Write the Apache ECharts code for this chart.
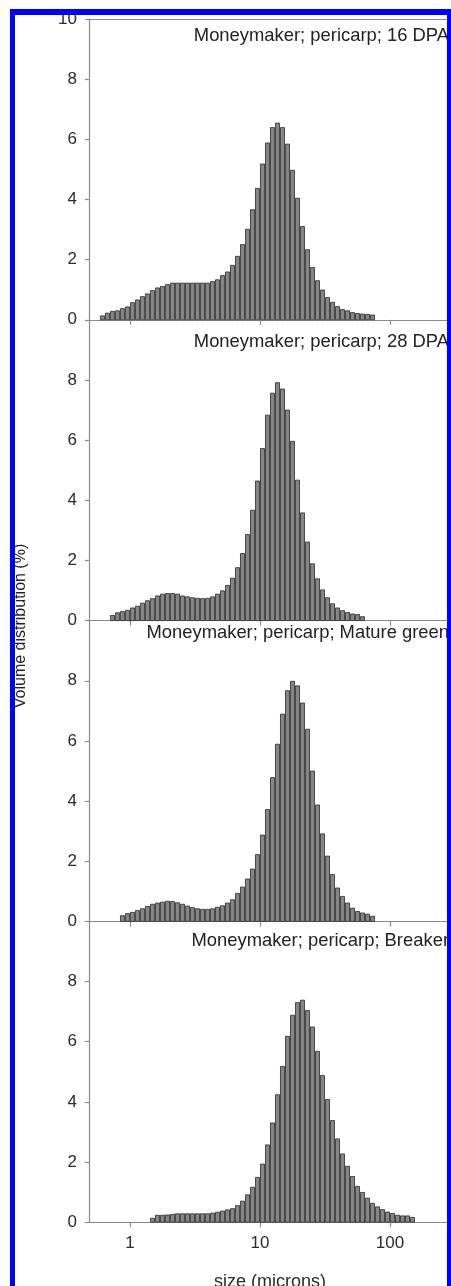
<!DOCTYPE html>
<html>
<head>
<meta charset="utf-8">
<script src="https://cdn.jsdelivr.net/npm/echarts@6/dist/echarts.min.js"></script>
<style>
  html, body { margin: 0; padding: 0; background: #fff; }
  #chart { width: 451px; height: 1286px; }
  /* blue frame of the figure, drawn over the chart so it clips the right edge */
  #frame {
    position: absolute; left: 10px; top: 9px; width: 441px; height: 1300px;
    box-sizing: border-box; pointer-events: none;
    border-left: 5px solid #0000ff; border-top: 6px solid #0000ff; border-right: 4px solid #0000ff;
  }
</style>
</head>
<body>
<div id="chart"></div>
<div id="frame"></div>
<script>
// size classes: 26 log-spaced bins per decade, bin k spans 10^(k/26) .. 10^((k+1)/26) microns
const binsPerDecade = 26;

const titles = [
  "Moneymaker; pericarp; 16 DPA",
  "Moneymaker; pericarp; 28 DPA",
  "Moneymaker; pericarp; Mature green",
  "Moneymaker; pericarp; Breaker"
];

// index of the first non-empty bin of each panel
const firstBin = [-6, -4, -2, 4];

// volume distribution (%) per bin
const dpa16 = [0.13, 0.22, 0.28, 0.30, 0.37, 0.43, 0.57, 0.66, 0.77, 0.86, 0.97, 1.06, 1.11, 1.17, 1.22,
  1.22, 1.22, 1.22, 1.22, 1.22, 1.22, 1.22, 1.27, 1.33, 1.47, 1.59, 1.81, 2.11, 2.50, 3.01,
  3.66, 4.37, 5.18, 5.88, 6.39, 6.54, 6.39, 5.84, 4.97, 4.04, 3.10, 2.33, 1.74, 1.30, 0.99,
  0.74, 0.58, 0.44, 0.34, 0.30, 0.24, 0.21, 0.19, 0.18, 0.16];
const dpa28 = [0.17, 0.26, 0.30, 0.34, 0.42, 0.48, 0.58, 0.66, 0.73, 0.82, 0.88, 0.90, 0.90, 0.88, 0.82,
  0.79, 0.76, 0.74, 0.73, 0.74, 0.79, 0.88, 0.99, 1.17, 1.41, 1.76, 2.23, 2.86, 3.67, 4.64,
  5.72, 6.83, 7.56, 7.91, 7.70, 7.00, 5.96, 4.67, 3.58, 2.61, 1.89, 1.39, 1.02, 0.76, 0.56,
  0.42, 0.33, 0.27, 0.22, 0.20, 0.13];
const matureGreen = [0.19, 0.26, 0.30, 0.36, 0.42, 0.50, 0.57, 0.61, 0.64, 0.67, 0.66, 0.62, 0.57, 0.51, 0.46,
  0.42, 0.40, 0.40, 0.42, 0.47, 0.52, 0.61, 0.72, 0.93, 1.14, 1.41, 1.74, 2.22, 2.87, 3.72,
  4.78, 5.89, 6.89, 7.67, 7.98, 7.83, 7.26, 6.39, 5.00, 3.87, 2.91, 2.17, 1.56, 1.11, 0.83,
  0.61, 0.44, 0.33, 0.28, 0.24, 0.17];
const breaker = [0.13, 0.23, 0.23, 0.24, 0.26, 0.28, 0.28, 0.28, 0.28, 0.28, 0.28, 0.28, 0.30, 0.33, 0.37,
  0.41, 0.45, 0.55, 0.70, 0.91, 1.16, 1.49, 1.93, 2.57, 3.30, 4.24, 5.18, 6.18, 6.88, 7.30,
  7.38, 7.04, 6.49, 5.68, 4.88, 4.08, 3.38, 2.77, 2.27, 1.86, 1.52, 1.19, 0.99, 0.80, 0.63,
  0.51, 0.42, 0.34, 0.29, 0.23, 0.21, 0.21, 0.16];

const xTickLabels = [1, 10, 100];
const yTickStep = 2;

const panels = [dpa16, dpa28, matureGreen, breaker];

// x axis runs in log10(microns)
const xMin = Math.log10(0.484);
const xMax = Math.log10(294.5);
const xTicks = xTickLabels.map(v => Math.log10(v));

const gridTop = [19, 319.8, 620.6, 921.4];
const titleY = [36, 342, 633, 941];

const font = 'Liberation Sans, Arial, sans-serif';
const axisGray = '#8a8a8a';
const labelStyle = { color: '#2b2b2b', fontSize: 17, fontFamily: font };

function renderBar(params, api) {
  const top = api.coord([api.value(0), api.value(2)]);
  const base = api.coord([api.value(1), 0]);
  return {
    type: 'rect',
    shape: { x: top[0] + 0.5, y: top[1], width: base[0] - top[0] - 1, height: base[1] - top[1] },
    style: { fill: '#868686', stroke: '#2a2a2a', lineWidth: 0.8 }
  };
}

const chart = echarts.init(document.getElementById('chart'));

const xAxis = panels.map((_, i) => ({
  type: 'value',
  gridIndex: i,
  min: xMin,
  max: xMax,
  axisLine: { show: true, onZero: false, lineStyle: { color: axisGray, width: 1.2 } },
  axisTick: { show: true, length: 5, customValues: xTicks, lineStyle: { color: axisGray, width: 1.2 } },
  axisLabel: {
    show: i === 3,
    customValues: xTicks,
    margin: 13,
    formatter: v => String(Math.round(Math.pow(10, v))),
    ...labelStyle
  },
  splitLine: { show: false },
  name: i === 3 ? 'size (microns)' : '',
  nameLocation: 'middle',
  nameGap: 51,
  nameTextStyle: { ...labelStyle, fontSize: 18 }
}));
// frame line across the top of the first panel
xAxis.push({
  type: 'value', gridIndex: 0, position: 'top', min: xMin, max: xMax,
  axisLine: { show: true, onZero: false, lineStyle: { color: axisGray, width: 1.2 } },
  axisTick: { show: false }, axisLabel: { show: false }, splitLine: { show: false }
});

const yAxis = panels.map((_, i) => ({
  type: 'value',
  gridIndex: i,
  min: 0,
  max: 10,
  interval: yTickStep,
  axisLine: { show: true, onZero: false, lineStyle: { color: axisGray, width: 1.2 } },
  axisTick: { show: true, length: 4, lineStyle: { color: axisGray, width: 1.2 } },
  axisLabel: { showMaxLabel: i === 0, margin: 12, ...labelStyle },
  splitLine: { show: false }
}));

chart.setOption({
  animation: false,
  // the axis name runs off the bottom edge, as in the original figure: keep grids where they are
  grid: gridTop.map(t => ({ left: 89, right: 0, top: t, height: 300.8, outerBoundsMode: 'none', containLabel: false })),
  xAxis: xAxis,
  yAxis: yAxis,
  series: panels.map((vals, i) => ({
    type: 'custom',
    xAxisIndex: i,
    yAxisIndex: i,
    silent: true,
    renderItem: renderBar,
    encode: { x: [0, 1], y: 2 },
    data: vals.map((v, j) => [
      (firstBin[i] + j) / binsPerDecade,
      (firstBin[i] + j + 1) / binsPerDecade,
      v
    ])
  })),
  graphic: [
    ...titles.map((t, i) => ({
      type: 'text',
      x: 449,
      y: titleY[i],
      z: 10,
      style: { text: t, align: 'right', verticalAlign: 'middle', fontSize: 18.4, fontFamily: font, fill: '#222' }
    })),
    {
      type: 'text',
      x: 21,
      y: 626,
      rotation: Math.PI / 2,
      style: {
        text: 'Volume distribution (%)', align: 'center', verticalAlign: 'middle',
        fontSize: 16, fontFamily: font, fill: '#222'
      }
    }
  ]
});
</script>
</body>
</html>
